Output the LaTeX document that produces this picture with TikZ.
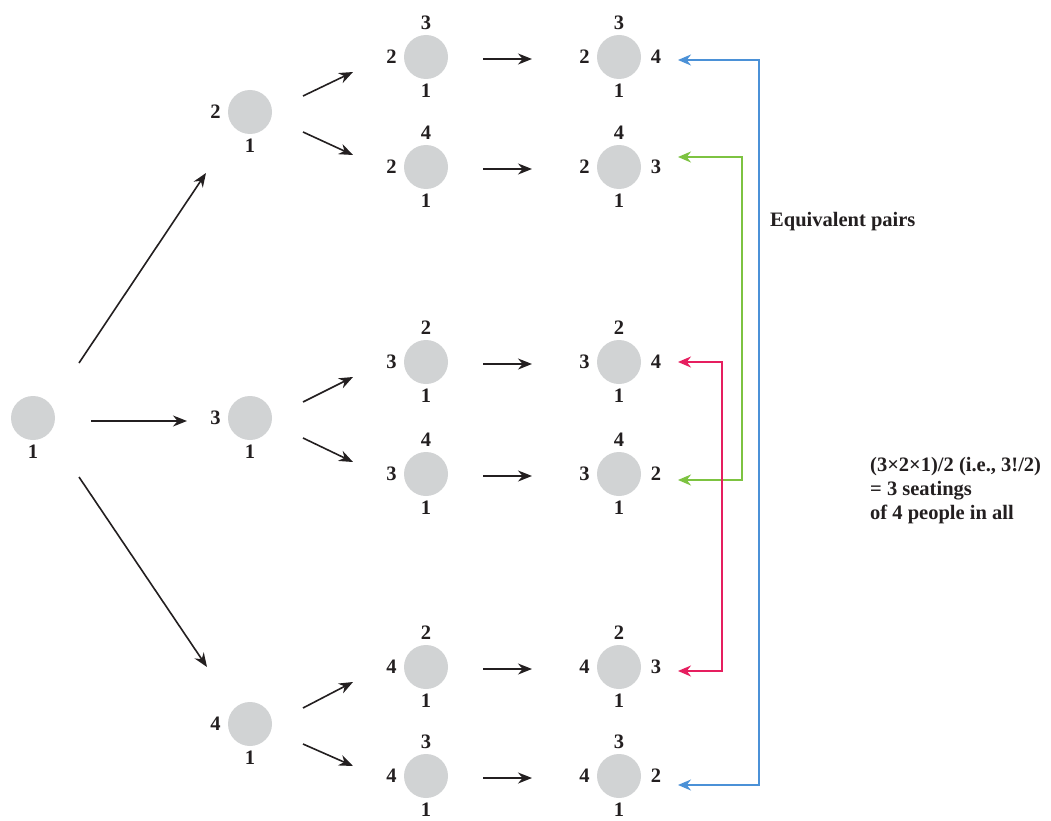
\documentclass[tikz,border=0pt]{standalone}
\usepackage{fontspec}
\setmainfont{Liberation Serif}
\usetikzlibrary{arrows.meta,calc}
\definecolor{seatgray}{RGB}{209,211,212}
\definecolor{pblue}{RGB}{75,145,215}
\definecolor{pgreen}{RGB}{125,195,65}
\definecolor{pred}{RGB}{230,30,95}
\definecolor{ink}{RGB}{35,31,32}
\begin{document}
\begin{tikzpicture}[x=1pt,y=-1pt,
  seat/.style={circle,fill=seatgray,minimum size=44pt,inner sep=0pt},
  lbl/.style={inner sep=0pt,font=\bfseries\fontsize{20.5}{24}\selectfont,text=ink},
  every label/.style={lbl},
  tlab/.style={label={[label distance=5pt]above:#1}},
  llab/.style={label={[label distance=7pt]left:#1}},
  rlab/.style={label={[label distance=9.5pt]right:#1}},
  blab/.style={label={[label distance=5pt]below:#1}},
  arr/.style={-{Stealth[length=14pt,width=11pt]},line width=1.6pt,draw=ink},
  pair/.style={{Stealth[length=13pt,width=11pt]}-{Stealth[length=13pt,width=11pt]},line width=1.5pt}]
\useasboundingbox[fill=white] (0,0) rectangle (1051,821);

% nodes
\node[seat,blab=1] (root) at (33,418) {};
\node[seat,llab=2,blab=1] (a1) at (250,112) {};
\node[seat,llab=3,blab=1] (a2) at (250,418) {};
\node[seat,llab=4,blab=1] (a3) at (250,724) {};

\node[seat,tlab=3,llab=2,blab=1] (b1) at (426,57) {};
\node[seat,tlab=4,llab=2,blab=1] (b2) at (426,167) {};
\node[seat,tlab=2,llab=3,blab=1] (b3) at (426,362) {};
\node[seat,tlab=4,llab=3,blab=1] (b4) at (426,474) {};
\node[seat,tlab=2,llab=4,blab=1] (b5) at (426,667) {};
\node[seat,tlab=3,llab=4,blab=1] (b6) at (426,776) {};

\node[seat,tlab=3,llab=2,rlab=4,blab=1] (c1) at (619,57) {};
\node[seat,tlab=4,llab=2,rlab=3,blab=1] (c2) at (619,167) {};
\node[seat,tlab=2,llab=3,rlab=4,blab=1] (c3) at (619,362) {};
\node[seat,tlab=4,llab=3,rlab=2,blab=1] (c4) at (619,474) {};
\node[seat,tlab=2,llab=4,rlab=3,blab=1] (c5) at (619,667) {};
\node[seat,tlab=3,llab=4,rlab=2,blab=1] (c6) at (619,776) {};

% root arrows
\draw[arr] ($(root)+(46,-55)$) -- ($(a1)+(-44,61)$);
\draw[arr] ($(root)+(58,3)$) -- ($(a2)+(-63,3)$);
\draw[arr] ($(root)+(46,59)$) -- ($(a3)+(-43,-57)$);

% level 1 to level 2
\draw[arr] ($(a1)+(53,-16)$) -- ($(b1)+(-73,15)$);
\draw[arr] ($(a1)+(53,20)$) -- ($(b2)+(-73,-12)$);
\draw[arr] ($(a2)+(53,-16)$) -- ($(b3)+(-73,15)$);
\draw[arr] ($(a2)+(53,20)$) -- ($(b4)+(-73,-12)$);
\draw[arr] ($(a3)+(53,-16)$) -- ($(b5)+(-73,15)$);
\draw[arr] ($(a3)+(53,20)$) -- ($(b6)+(-73,-10)$);

% level 2 to level 3
\draw[arr] ($(b1)+(57,2)$) -- ($(c1)+(-87,2)$);
\draw[arr] ($(b2)+(57,2)$) -- ($(c2)+(-87,2)$);
\draw[arr] ($(b3)+(57,2)$) -- ($(c3)+(-87,2)$);
\draw[arr] ($(b4)+(57,2)$) -- ($(c4)+(-87,2)$);
\draw[arr] ($(b5)+(57,2)$) -- ($(c5)+(-87,2)$);
\draw[arr] ($(b6)+(57,2)$) -- ($(c6)+(-87,2)$);

% equivalent pairs
\draw[pair,draw=pblue] ($(c6)+(59,9)$) -| ($(c1)+(140,3)$) -- ($(c1)+(59,3)$);
\draw[pair,draw=pgreen] ($(c4)+(59,6)$) -| ($(c2)+(123,-10)$) -- ($(c2)+(59,-10)$);
\draw[pair,draw=pred] ($(c5)+(59,4)$) -| ($(c3)+(103,0)$) -- ($(c3)+(59,0)$);

% texts
\node[lbl,anchor=west] (eq) at (770,222) {Equivalent pairs};
\node[lbl,anchor=west,align=left] (total) at (870,491) {(3×2×1)/2 (i.e., 3!/2)\\= 3 seatings\\of 4 people in all};
\end{tikzpicture}
\end{document}
